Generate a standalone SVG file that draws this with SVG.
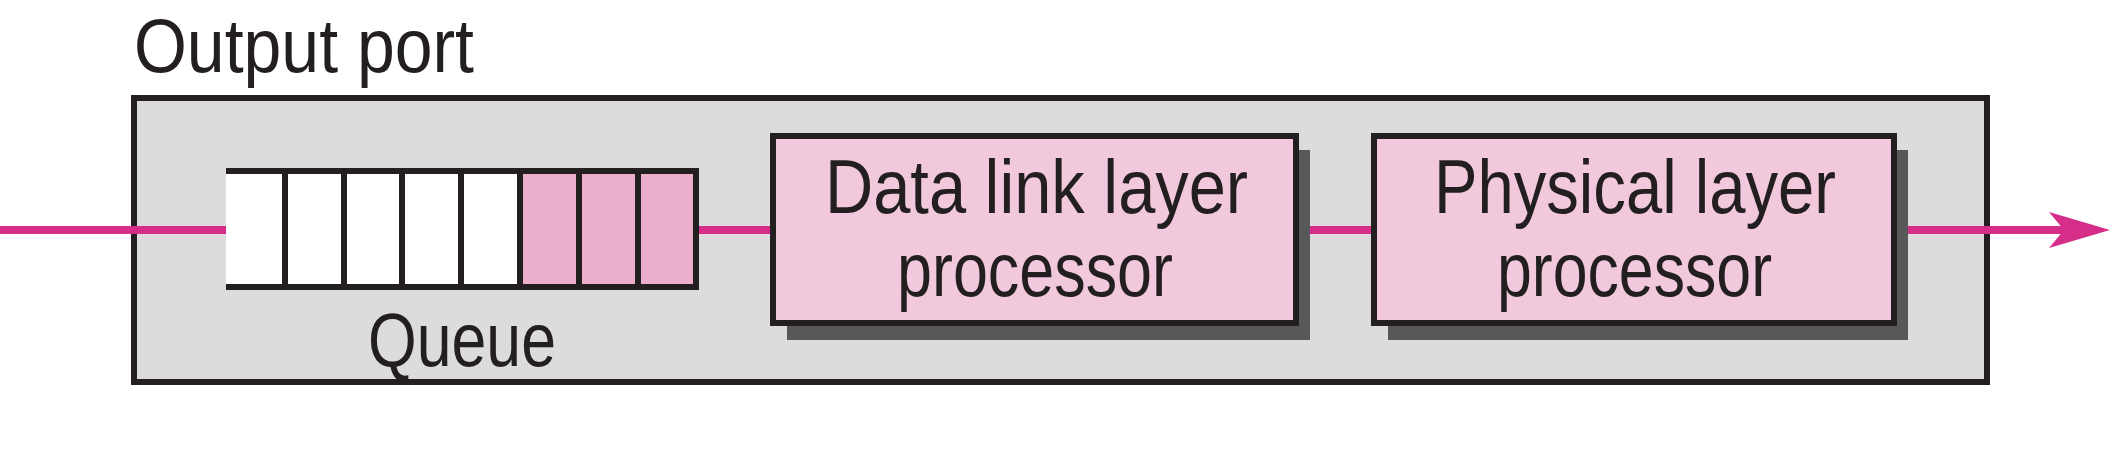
<svg xmlns="http://www.w3.org/2000/svg" width="2122" height="452" viewBox="0 0 2122 452">
<style>
.t{font-family:"Liberation Sans",Arial,sans-serif;font-size:76px;fill:#231f20}
.wire{stroke:#d62d89;stroke-width:8;fill:none}
.box{fill:#f2c9dc;stroke:#231f20;stroke-width:6}
.shadow{fill:#58585a}
.cell{stroke:#231f20;stroke-width:6}
</style>
<g id="output-port">
<rect x="134" y="98" width="1853" height="284" fill="#dcdcde" stroke="#231f20" stroke-width="6"/>
<text class="t" x="134" y="72" textLength="340" lengthAdjust="spacingAndGlyphs">Output port</text>
</g>
<g id="connectors">
<line class="wire" x1="0" y1="230" x2="228" y2="230"/>
<line class="wire" x1="696" y1="230" x2="775" y2="230"/>
<line class="wire" x1="1296" y1="230" x2="1376" y2="230"/>
<line class="wire" x1="1894" y1="230" x2="2080" y2="230"/>
<path d="M2049,212 L2110,230 L2049,248 L2064,230 Z" fill="#d62d89"/>
</g>
<g id="queue">
<rect x="226" y="171" width="470" height="116" fill="#ffffff"/>
<rect x="520" y="171" width="176" height="116" fill="#ebafcb"/>
<line class="cell" x1="226" y1="171" x2="699" y2="171"/>
<line class="cell" x1="226" y1="287" x2="699" y2="287"/>
<line class="cell" x1="285" y1="171" x2="285" y2="287"/>
<line class="cell" x1="344" y1="171" x2="344" y2="287"/>
<line class="cell" x1="402" y1="171" x2="402" y2="287"/>
<line class="cell" x1="461" y1="171" x2="461" y2="287"/>
<line class="cell" x1="520" y1="171" x2="520" y2="287"/>
<line class="cell" x1="579" y1="171" x2="579" y2="287"/>
<line class="cell" x1="638" y1="171" x2="638" y2="287"/>
<line class="cell" x1="696" y1="171" x2="696" y2="287"/>
<text class="t" x="368" y="366" textLength="188" lengthAdjust="spacingAndGlyphs">Queue</text>
</g>
<g id="data-link">
<rect class="shadow" x="787" y="150" width="523" height="190"/>
<rect class="box" x="773" y="136" width="523" height="187"/>
<text class="t" x="825" y="213" textLength="423" lengthAdjust="spacingAndGlyphs">Data link layer</text>
<text class="t" x="897" y="296" textLength="276" lengthAdjust="spacingAndGlyphs">processor</text>
</g>
<g id="physical">
<rect class="shadow" x="1388" y="150" width="520" height="190"/>
<rect class="box" x="1374" y="136" width="520" height="187"/>
<text class="t" x="1434" y="213" textLength="402" lengthAdjust="spacingAndGlyphs">Physical layer</text>
<text class="t" x="1497" y="296" textLength="275" lengthAdjust="spacingAndGlyphs">processor</text>
</g>
</svg>
